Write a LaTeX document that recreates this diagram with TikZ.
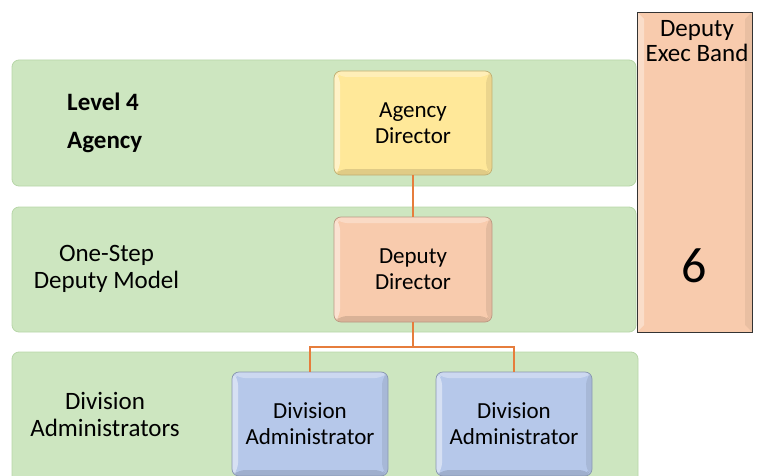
\documentclass[tikz,border=0pt]{standalone}
\usepackage{fontspec}
\setmainfont{Carlito}
\definecolor{bandgreen}{RGB}{205,230,192}
\definecolor{bandedge}{RGB}{183,214,168}
\definecolor{ylw}{RGB}{255,232,153}
\definecolor{peach}{RGB}{248,203,173}
\definecolor{blu}{RGB}{182,200,234}
\definecolor{conn}{RGB}{230,125,60}
\begin{document}
\begin{tikzpicture}[x=1pt,y=1pt,
  band/.style={rounded corners=7pt, fill=bandgreen, draw=bandedge, line width=0.8pt},
  bevel/.style={rounded corners=7pt, fill=#1, draw=#1!75!black, line width=0.7pt,
    inner sep=0pt, align=center, font=\fontsize{23}{26}\selectfont,
    path picture={
      \fill[white,opacity=.45] (path picture bounding box.north west) -- (path picture bounding box.south west)
        -- ([shift={(6pt,6pt)}]path picture bounding box.south west) -- ([shift={(6pt,-6pt)}]path picture bounding box.north west) -- cycle;
      \fill[white,opacity=.3] (path picture bounding box.north west) -- (path picture bounding box.north east)
        -- ([shift={(-6pt,-6pt)}]path picture bounding box.north east) -- ([shift={(6pt,-6pt)}]path picture bounding box.north west) -- cycle;
      \fill[black,opacity=.08] (path picture bounding box.north east) -- (path picture bounding box.south east)
        -- ([shift={(-6pt,6pt)}]path picture bounding box.south east) -- ([shift={(-6pt,-6pt)}]path picture bounding box.north east) -- cycle;
      \fill[black,opacity=.12] (path picture bounding box.south west) -- (path picture bounding box.south east)
        -- ([shift={(-6pt,6pt)}]path picture bounding box.south east) -- ([shift={(6pt,6pt)}]path picture bounding box.south west) -- cycle;
    }},
  lbl/.style={align=center, font=\fontsize{25}{27}\selectfont, inner sep=0pt},
  blbl/.style={anchor=west, inner sep=0pt, font=\bfseries\fontsize{25}{27}\selectfont},
  link/.style={draw=conn, line width=1.2pt}
]
\useasboundingbox (0,0) rectangle (757,475);
\clip (0,0) rectangle (757,475);
% bands
\path[band] (12,289) rectangle (636,415);
\path[band] (12,143) rectangle (636,268);
\path[band] (12,-10) rectangle (638,123);
% right column
\node[draw=black!80, fill=peach, line width=0.8pt, minimum width=115pt, minimum height=320pt, inner sep=0pt,
  path picture={
    \fill[white,opacity=.35] (path picture bounding box.north west) -- (path picture bounding box.south west)
      -- ([shift={(7pt,7pt)}]path picture bounding box.south west) -- ([shift={(7pt,-7pt)}]path picture bounding box.north west) -- cycle;
    \fill[black,opacity=.06] (path picture bounding box.north east) -- (path picture bounding box.south east)
      -- ([shift={(-7pt,7pt)}]path picture bounding box.south east) -- ([shift={(-7pt,-7pt)}]path picture bounding box.north east) -- cycle;
  }] (band) at (694.5,303) {};
\node[align=center, font=\fontsize{25}{25}\selectfont, inner sep=0pt] (bandt) at (697,434) {Deputy\\Exec Band};
\node[font=\fontsize{50}{50}\selectfont, inner sep=0pt] (six) at (694.5,209) {6};
% boxes
\node[bevel=ylw, minimum width=158pt, minimum height=104pt] (ad) at (413,352) {Agency\\Director};
\node[bevel=peach, minimum width=158pt, minimum height=105pt] (dd) at (413,205.5) {Deputy\\Director};
\node[bevel=blu, minimum width=156pt, minimum height=104pt] (da1) at (310,51) {Division\\Administrator};
\node[bevel=blu, minimum width=156pt, minimum height=104pt] (da2) at (514,51) {Division\\Administrator};
% labels
\node[blbl] (l4) at (67,373) {Level 4};
\node[blbl] (ag) at (67,332) {Agency};
\node[lbl] (osd) at (106.5,206) {One-Step\\Deputy Model};
\node[lbl] (dal) at (105,61) {Division\\Administrators};
% connectors
\coordinate (j) at (413,128);
\draw[link] (ad.south) -- (dd.north);
\draw[link] (dd.south) -- (j);
\draw[link] (j) -| (da1.north);
\draw[link] (j) -| (da2.north);
\end{tikzpicture}
\end{document}
